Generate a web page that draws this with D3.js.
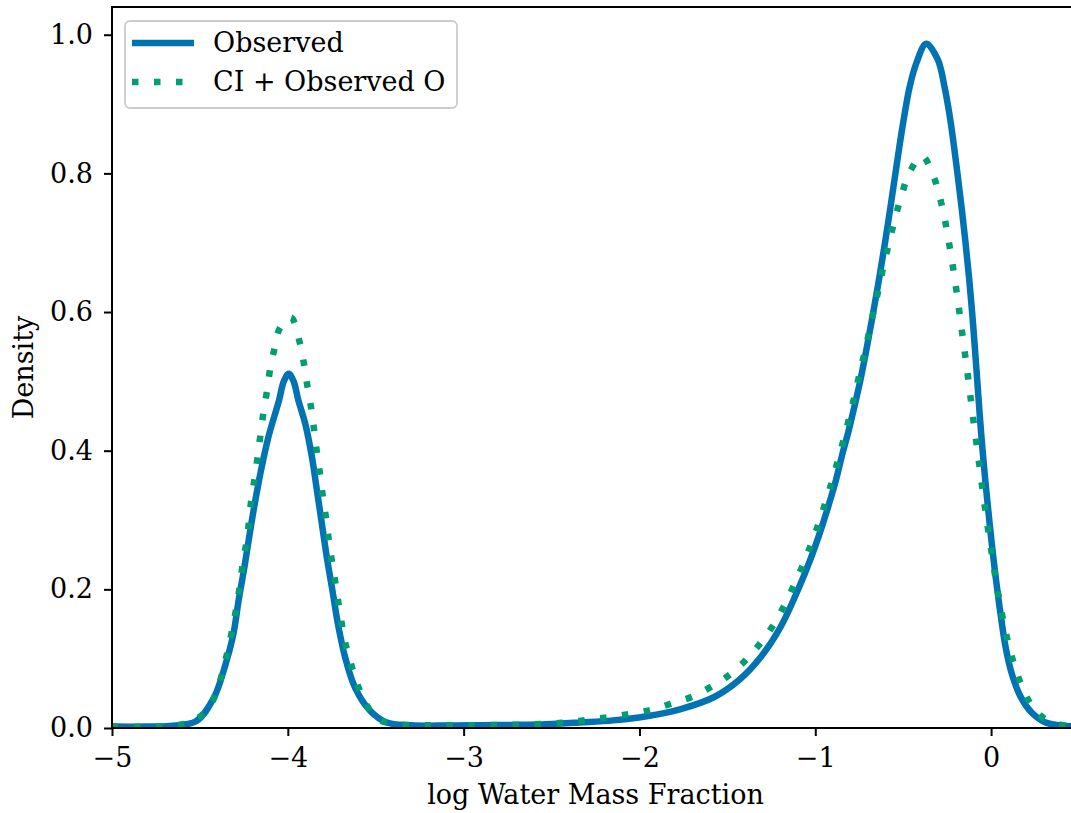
<!DOCTYPE html>
<html>
<head>
<meta charset="utf-8">
<script src="https://cdn.jsdelivr.net/npm/d3@7/dist/d3.min.js"></script>
<style>
  html, body { margin: 0; padding: 0; background: #ffffff; }
  svg { display: block; }
  text { font-family: "DejaVu Serif", serif; fill: #000; }
</style>
</head>
<body>
<svg id="chart" width="1071" height="813"></svg>
<script>
// Kernel density of log water mass fraction, sampled along x.
const obsX = [-5.00, -4.80, -4.67, -4.52, -4.42, -4.36, -4.31, -4.28, -4.247, -4.217, -4.185, -4.149, -4.106, -4.050,
  -4.023, -3.995, -3.967, -3.940, -3.901, -3.863, -3.834, -3.806, -3.778, -3.746, -3.715, -3.674, -3.617, -3.532, -3.437, -3.30,
  -3.10, -2.90, -2.72, -2.53, -2.34, -2.15, -1.96, -1.77, -1.58, -1.43, -1.311, -1.199, -1.092, -1.031,
  -0.976, -0.928, -0.883, -0.845, -0.810, -0.778, -0.744, -0.703, -0.668, -0.635, -0.604, -0.575, -0.547, -0.519,
  -0.491, -0.463, -0.425, -0.369, -0.303, -0.265, -0.238, -0.213, -0.189, -0.166, -0.145, -0.126, -0.109, -0.094,
  -0.080, -0.065, -0.050, -0.033, -0.014, 0.006, 0.029, 0.054, 0.083, 0.118, 0.166, 0.232, 0.310, 0.427, 0.50];
const obsY = [0.002, 0.002, 0.003, 0.010, 0.044, 0.087, 0.135, 0.184, 0.232, 0.280, 0.328, 0.376, 0.424, 0.4725,
  0.500, 0.511, 0.500, 0.4725, 0.439, 0.391, 0.342, 0.294, 0.246, 0.198, 0.150, 0.102, 0.058, 0.025, 0.008, 0.004,
  0.0035, 0.004, 0.0045, 0.0055, 0.008, 0.011, 0.017, 0.027, 0.044, 0.070, 0.102, 0.145, 0.203, 0.241,
  0.280, 0.318, 0.357, 0.396, 0.429, 0.463, 0.501, 0.554, 0.603, 0.651, 0.699, 0.747, 0.795, 0.843,
  0.887, 0.925, 0.959, 0.987, 0.964, 0.925, 0.887, 0.843, 0.795, 0.747, 0.699, 0.651, 0.603, 0.554,
  0.506, 0.453, 0.405, 0.357, 0.309, 0.261, 0.212, 0.164, 0.116, 0.078, 0.046, 0.022, 0.008, 0.003, 0.002];

const ciX = [-5.00, -4.80, -4.658, -4.539, -4.450, -4.399, -4.365, -4.337, -4.312, -4.289, -4.270, -4.255, -4.234,
  -4.219, -4.206, -4.187, -4.170, -4.155, -4.138, -4.118, -4.101, -4.075, -4.043, -3.982, -3.933, -3.910, -3.891,
  -3.870, -3.853, -3.838, -3.821, -3.805, -3.788, -3.772, -3.755, -3.736, -3.717, -3.698, -3.677, -3.647, -3.611,
  -3.564, -3.494, -3.40, -3.20, -3.00, -2.75, -2.528, -2.405, -2.286, -2.164, -2.042, -1.922, -1.809, -1.691,
  -1.582, -1.481, -1.392, -1.310, -1.240, -1.180, -1.127, -1.076, -1.030, -0.989, -0.951, -0.914, -0.879, -0.846,
  -0.815, -0.786, -0.758, -0.730, -0.703, -0.677, -0.651, -0.625, -0.598, -0.569, -0.539, -0.505, -0.465, -0.392,
  -0.328, -0.292, -0.265, -0.243, -0.223, -0.204, -0.187, -0.171, -0.155, -0.139, -0.123, -0.108, -0.092, -0.076,
  -0.060, -0.044, -0.028, -0.010, 0.009, 0.028, 0.049, 0.072, 0.099, 0.132, 0.172, 0.227, 0.307, 0.427, 0.50];
const ciY = [0.002, 0.002, 0.003, 0.010, 0.029, 0.057, 0.087, 0.117, 0.147, 0.179, 0.210, 0.240, 0.270,
  0.302, 0.333, 0.363, 0.395, 0.424, 0.456, 0.487, 0.517, 0.548, 0.578, 0.592, 0.557, 0.528, 0.497,
  0.466, 0.435, 0.404, 0.374, 0.342, 0.312, 0.281, 0.250, 0.220, 0.188, 0.158, 0.127, 0.098, 0.068,
  0.039, 0.014, 0.006, 0.004, 0.004, 0.0045, 0.006, 0.0085, 0.012, 0.016, 0.021, 0.027, 0.036, 0.046,
  0.061, 0.078, 0.099, 0.123, 0.148, 0.175, 0.203, 0.232, 0.261, 0.289, 0.318, 0.348, 0.379, 0.409,
  0.439, 0.469, 0.500, 0.530, 0.560, 0.591, 0.620, 0.651, 0.681, 0.712, 0.742, 0.772, 0.801, 0.825,
  0.796, 0.766, 0.736, 0.705, 0.675, 0.643, 0.613, 0.582, 0.552, 0.521, 0.490, 0.458, 0.428, 0.397,
  0.366, 0.335, 0.305, 0.274, 0.243, 0.212, 0.182, 0.151, 0.121, 0.091, 0.062, 0.034, 0.013, 0.003, 0.002];

const seriesNames = ["Observed", "CI + Observed O"];
const seriesColors = ["#0173b2", "#029e73"];
const xTicks = [-5, -4, -3, -2, -1, 0];
const yTicks = [0.0, 0.2, 0.4, 0.6, 0.8, 1.0];
const xDomain = [-5, 0.5];
const yDomain = [0, 1.04];
const xTitle = "log Water Mass Fraction";
const yTitle = "Density";

const svg = d3.select("#chart");
const plotLeft = 112, plotTop = 7, plotRight = 1079, plotBottom = 728;
const fontSize = 27;

const x = d3.scaleLinear().domain(xDomain).range([plotLeft, plotRight]);
const y = d3.scaleLinear().domain(yDomain).range([plotBottom, plotTop]);

// Curves
const series = [
  { xs: obsX, ys: obsY, color: seriesColors[0], dash: null },
  { xs: ciX, ys: ciY, color: seriesColors[1], dash: "6.5,15.5" }
];
const line = d3.line().x(d => x(d[0])).y(d => y(d[1])).curve(d3.curveCatmullRom.alpha(0.5));

svg.append("defs").append("clipPath").attr("id", "plotclip")
  .append("rect").attr("x", plotLeft).attr("y", plotTop)
  .attr("width", plotRight - plotLeft).attr("height", plotBottom - plotTop);

const plot = svg.append("g").attr("clip-path", "url(#plotclip)");
series.forEach(s => {
  plot.append("path")
    .datum(s.xs.map((v, i) => [v, s.ys[i]]))
    .attr("fill", "none")
    .attr("stroke", s.color)
    .attr("stroke-width", 6.5)
    .attr("stroke-linejoin", "round")
    .attr("stroke-linecap", "butt")
    .attr("stroke-dasharray", s.dash)
    .attr("d", line);
});

// Axes
const xAxis = d3.axisBottom(x).tickValues(xTicks).tickFormat(d3.format("d")).tickSize(8).tickPadding(12);
const yAxis = d3.axisLeft(y).tickValues(yTicks).tickFormat(d3.format(".1f")).tickSize(8).tickPadding(11);

const gx = svg.append("g").attr("transform", `translate(0,${plotBottom})`).call(xAxis);
const gy = svg.append("g").attr("transform", `translate(${plotLeft},0)`).call(yAxis);
[gx, gy].forEach(g => {
  g.select(".domain").remove();
  g.selectAll(".tick line").attr("stroke", "#000").attr("stroke-width", 2);
  g.selectAll(".tick text").attr("font-size", fontSize).attr("font-family", "DejaVu Serif").attr("fill", "#000");
});

// Frame
svg.append("rect")
  .attr("x", plotLeft).attr("y", plotTop)
  .attr("width", plotRight - plotLeft).attr("height", plotBottom - plotTop)
  .attr("fill", "none").attr("stroke", "#000").attr("stroke-width", 2);

// Axis titles
svg.append("text")
  .attr("x", (plotLeft + plotRight) / 2).attr("y", 804)
  .attr("text-anchor", "middle").attr("font-size", fontSize)
  .text(xTitle);
svg.append("text")
  .attr("transform", `translate(33,${(plotTop + plotBottom) / 2}) rotate(-90)`)
  .attr("text-anchor", "middle").attr("font-size", fontSize)
  .text(yTitle);

// Legend
const lg = svg.append("g");
lg.append("rect")
  .attr("x", 125).attr("y", 21).attr("width", 332).attr("height", 87).attr("rx", 5)
  .attr("fill", "#ffffff").attr("fill-opacity", 0.8)
  .attr("stroke", "#cccccc").attr("stroke-width", 1.8);
series.forEach((s, i) => {
  const cy = 43 + i * 39;
  lg.append("line")
    .attr("x1", 132).attr("x2", 194).attr("y1", cy).attr("y2", cy)
    .attr("stroke", s.color).attr("stroke-width", 6.5)
    .attr("stroke-dasharray", s.dash);
  lg.append("text")
    .attr("x", 213).attr("y", cy).attr("dy", "0.35em")
    .attr("font-size", fontSize)
    .text(seriesNames[i]);
});
</script>
</body>
</html>
